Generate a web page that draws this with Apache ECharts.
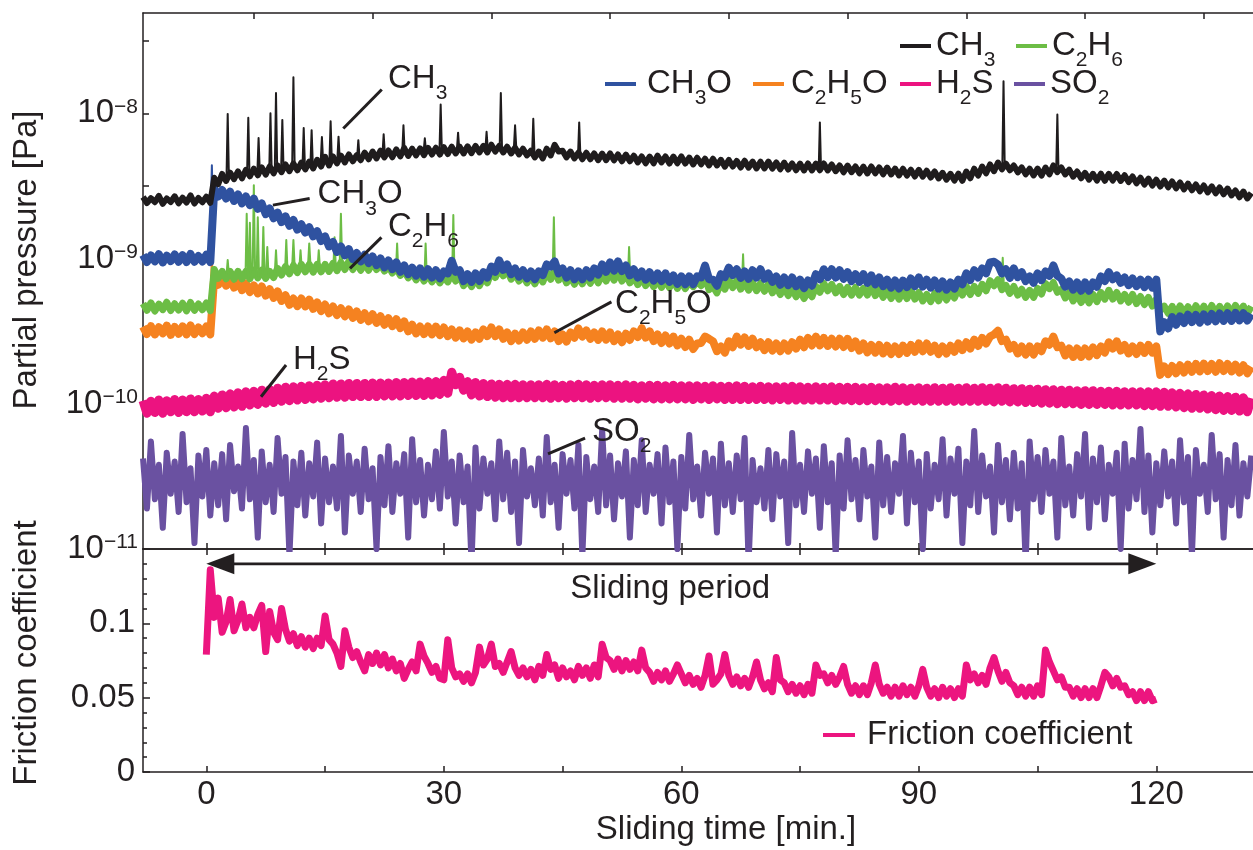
<!DOCTYPE html>
<html>
<head>
<meta charset="utf-8">
<title>Partial pressure and friction coefficient during sliding</title>
<script src="https://cdn.jsdelivr.net/npm/echarts@6/dist/echarts.min.js"></script>
<style>
  html, body { margin: 0; padding: 0; background: #ffffff; }
  #chart { width: 1253px; height: 850px; }
</style>
</head>
<body>
<div id="chart"></div>
<script>
// ---------------------------------------------------------------------------
// Gas traces are sampled every half minute starting at -8 min.
// Partial pressures are stored in units of 1e-12 Pa.
// Short spikes are listed separately (time in min, peak value).
// ---------------------------------------------------------------------------
const GAS_T0 = -8;
const FRICTION_T0 = 0;
const STEP = 0.5;
const PRESSURE_UNIT = 1e-12;

const ch3 = [
  2650, 2410, 2600, 2440, 2700, 2380, 2590, 2450, 2680, 2400, 2620, 2430, 2720, 2390, 2610, 2440, 2660, 2420, 3600, 3250,
  3820, 3420, 3900, 3520, 3980, 3560, 4080, 3680, 4150, 3740, 4240, 3780, 4300, 3860, 4370, 3930, 4440, 3990, 4500, 4050,
  4580, 4110, 4650, 4170, 4780, 4300, 5010, 4370, 5040, 4520, 5110, 4590, 5200, 4670, 5150, 4750, 5360, 4820, 5450, 4890,
  5520, 4970, 5540, 4980, 5630, 5050, 5760, 5080, 5700, 5130, 5730, 5150, 5780, 5200, 5790, 5200, 5840, 5240, 5880, 5290,
  5890, 5290, 5920, 5310, 5960, 5370, 5970, 5370, 6070, 5450, 5960, 5370, 5880, 5290, 5790, 5210, 5700, 5130, 5520, 4970,
  5450, 4890, 5700, 5130, 6070, 5450, 5520, 4970, 5450, 4890, 5360, 4820, 5350, 4820, 5290, 4750, 5280, 4750, 5290, 4740,
  5200, 4670, 5190, 4670, 5110, 4590, 5040, 4520, 5030, 4520, 5100, 4590, 5040, 4510, 5030, 4520, 5040, 4510, 4950, 4440,
  4940, 4450, 4870, 4370, 4860, 4370, 4780, 4290, 4770, 4300, 4700, 4230, 4710, 4220, 4650, 4170, 4640, 4170, 4650, 4160,
  4580, 4110, 4570, 4100, 4510, 4050, 4500, 4040, 4510, 4040, 4500, 4050, 4510, 4040, 4440, 3990, 4370, 3920, 4360, 3930,
  4300, 3860, 4290, 3850, 4300, 3860, 4240, 3800, 4230, 3790, 4160, 3730, 4150, 3720, 4090, 3670, 4080, 3660, 4020, 3610,
  3970, 3560, 3890, 3490, 3830, 3440, 3840, 3430, 3970, 3570, 4150, 3720, 4300, 3860, 4440, 3990, 4580, 4110, 4500, 4050,
  4370, 3920, 4240, 3800, 4150, 3730, 4160, 3720, 4230, 3800, 4370, 3930, 4230, 3790, 4090, 3660, 3970, 3570, 3890, 3490,
  3830, 3440, 3840, 3430, 3830, 3440, 3820, 3420, 3740, 3360, 3670, 3290, 3600, 3230, 3550, 3180, 3490, 3130, 3440, 3090,
  3390, 3040, 3340, 2990, 3280, 2950, 3230, 2900, 3180, 2850, 3140, 2810, 3080, 2770, 3030, 2720, 2940, 2640, 2890, 2590,
  2820
];
const ch3SpikeT = [2.7, 5.3, 6.6, 8.1, 8.8, 9.6, 11.0, 12.3, 13.3, 14.6, 15.7, 16.7, 19.2, 22.4, 24.9, 27.6, 29.6, 31.8, 35.4, 37.2, 39.0, 41.3, 47.1, 77.5, 100.7, 107.5];
const ch3SpikeV = [9900, 9300, 6750, 10000, 13800, 9000, 17700, 7900, 7650, 6850, 8800, 6900, 6530, 7160, 8270, 6720, 11500, 7350, 7450, 13800, 8270, 9150, 8650, 8650, 16600, 9800];

const ch3o = [
  1060, 945, 1050, 955, 1070, 940, 1045, 960, 1065, 950, 1055, 945, 1075, 950, 1040, 955, 1060, 945, 3020, 2670,
  2960, 2590, 2880, 2490, 2760, 2400, 2670, 2330, 2580, 2200, 2390, 2020, 2210, 1890, 2070, 1780, 1950, 1680, 1840, 1580,
  1720, 1510, 1640, 1420, 1540, 1320, 1420, 1210, 1300, 1110, 1210, 1050, 1160, 990, 1090, 955, 1060, 930, 1035, 900,
  1000, 870, 970, 845, 940, 810, 895, 780, 865, 762, 855, 750, 843, 740, 830, 730, 815, 790, 965, 810,
  830, 700, 780, 690, 790, 700, 805, 740, 880, 810, 970, 835, 910, 780, 855, 750, 830, 730, 815, 720,
  815, 770, 910, 880, 955, 790, 855, 740, 830, 720, 815, 720, 830, 740, 855, 775, 910, 810, 940, 825,
  955, 820, 895, 765, 843, 740, 815, 715, 805, 705, 790, 700, 790, 690, 765, 670, 753, 665, 753, 665,
  753, 740, 895, 720, 715, 650, 780, 745, 865, 770, 843, 735, 815, 725, 830, 740, 843, 725, 790, 690,
  753, 660, 740, 655, 740, 645, 715, 625, 705, 650, 780, 720, 843, 745, 843, 740, 830, 725, 805, 700,
  780, 690, 780, 680, 765, 665, 740, 645, 715, 630, 705, 622, 705, 635, 728, 645, 740, 640, 715, 630,
  705, 620, 695, 610, 684, 620, 715, 665, 790, 710, 830, 740, 855, 790, 940, 950, 910, 790, 843, 735,
  855, 745, 805, 700, 753, 680, 790, 710, 815, 760, 895, 760, 728, 640, 695, 610, 684, 600, 684, 600,
  684, 640, 753, 700, 805, 720, 765, 680, 740, 655, 728, 645, 715, 635, 715, 630, 715, 315, 365, 330,
  395, 350, 400, 360, 410, 365, 408, 362, 412, 368, 415, 370, 418, 372, 420, 372, 422, 375, 420, 374,
  415
];
const ch3oSpikeT = [0.7];
const ch3oSpikeV = [4390];

const c2h6 = [
  490, 440, 495, 435, 485, 445, 500, 438, 488, 442, 492, 436, 498, 440, 486, 444, 494, 438, 840, 730,
  815, 725, 815, 720, 815, 725, 815, 725, 830, 735, 830, 730, 815, 740, 855, 770, 880, 785, 895, 800,
  910, 810, 910, 805, 910, 810, 910, 815, 925, 825, 940, 840, 955, 840, 940, 830, 925, 830, 940, 840,
  920, 820, 890, 795, 862, 765, 823, 735, 798, 712, 786, 700, 775, 690, 763, 680, 750, 690, 785, 700,
  763, 650, 716, 640, 727, 650, 739, 680, 810, 740, 848, 760, 837, 720, 786, 700, 763, 680, 750, 670,
  765, 690, 805, 720, 830, 710, 790, 680, 753, 665, 753, 670, 765, 675, 765, 680, 780, 700, 805, 710,
  805, 700, 780, 680, 753, 660, 740, 650, 728, 640, 715, 632, 715, 630, 705, 622, 705, 620, 695, 640,
  695, 650, 740, 610, 645, 580, 684, 615, 715, 630, 705, 615, 684, 605, 684, 600, 673, 595, 664, 580,
  643, 565, 633, 556, 623, 545, 605, 530, 594, 545, 643, 585, 673, 600, 664, 580, 643, 565, 633, 560,
  633, 560, 623, 560, 643, 555, 614, 540, 604, 530, 594, 525, 594, 530, 604, 525, 584, 510, 566, 505,
  575, 512, 584, 518, 584, 535, 623, 560, 643, 565, 643, 575, 664, 600, 704, 650, 715, 610, 653, 575,
  643, 560, 614, 540, 604, 540, 623, 570, 673, 620, 684, 585, 614, 535, 584, 510, 566, 498, 558, 495,
  566, 505, 584, 525, 604, 525, 584, 510, 566, 500, 566, 490, 548, 482, 540, 470, 523, 440, 470, 420,
  468, 415, 472, 418, 466, 412, 474, 420, 470, 416, 475, 420, 468, 415, 472, 418, 476, 422, 470, 417,
  468
];
const c2h6SpikeT = [2.7, 5.1, 5.5, 6.0, 6.5, 7.2, 7.7, 8.8, 10.1, 11.0, 11.9, 13.0, 14.2, 16.2, 17.0, 18.7, 24.1, 27.7, 31.2, 43.9, 53.4, 67.8, 100.6];
const c2h6SpikeV = [975, 2030, 1760, 3200, 1920, 1650, 1200, 1140, 1340, 1340, 1140, 1270, 1140, 1400, 2030, 1070, 1270, 1270, 1990, 1920, 1200, 1070, 1010];

const c2h5o = [
  340, 302, 342, 300, 336, 305, 345, 298, 338, 303, 341, 300, 346, 302, 335, 306, 340, 300, 750, 660,
  740, 650, 727, 630, 695, 605, 673, 588, 653, 575, 642, 555, 614, 535, 594, 510, 558, 480, 530, 470,
  530, 468, 521, 450, 498, 435, 482, 420, 467, 408, 454, 400, 446, 390, 432, 378, 420, 370, 413, 360,
  400, 350, 388, 342, 382, 332, 369, 315, 350, 305, 340, 302, 340, 300, 340, 297, 335, 292, 325, 285,
  320, 282, 315, 276, 310, 280, 325, 292, 335, 292, 325, 280, 310, 270, 304, 272, 310, 276, 315, 280,
  320, 285, 325, 282, 315, 270, 300, 268, 310, 285, 330, 290, 320, 280, 310, 275, 315, 276, 310, 270,
  300, 265, 304, 275, 315, 288, 331, 285, 315, 270, 300, 262, 295, 260, 290, 252, 280, 246, 276, 238,
  260, 262, 290, 280, 269, 230, 248, 225, 269, 245, 290, 255, 286, 250, 280, 245, 265, 234, 265, 232,
  260, 230, 260, 232, 265, 240, 276, 245, 284, 252, 290, 252, 284, 250, 280, 248, 280, 246, 280, 242,
  269, 232, 260, 226, 254, 225, 254, 222, 251, 220, 248, 220, 251, 224, 254, 228, 260, 230, 260, 228,
  251, 220, 248, 222, 251, 228, 260, 234, 265, 240, 276, 250, 284, 260, 290, 300, 318, 270, 276, 240,
  254, 222, 248, 218, 248, 218, 248, 230, 269, 255, 290, 245, 251, 215, 240, 210, 240, 210, 240, 212,
  244, 216, 248, 225, 265, 240, 269, 232, 254, 222, 248, 220, 251, 224, 254, 225, 248, 158, 181, 160,
  182, 162, 184, 164, 186, 166, 188, 167, 189, 168, 188, 166, 190, 168, 188, 167, 186, 164, 184, 162,
  180
];
const c2h5oSpikeT = [0.7];
const c2h5oSpikeV = [1055];

const h2s = [
  105, 86, 104, 87, 106, 86, 105, 88, 107, 87, 106, 88, 108, 88, 107, 89, 109, 88, 113, 93,
  115, 94, 117, 95, 119, 96, 121, 98, 122, 99, 124, 101, 125, 102, 128, 104, 130, 105, 131, 106,
  132, 107, 133, 108, 134, 109, 135, 110, 137, 111, 137, 111, 138, 112, 138, 112, 138, 112, 139, 112,
  139, 113, 139, 113, 140, 113, 140, 114, 141, 114, 141, 114, 142, 115, 142, 116, 145, 118, 165, 135,
  152, 124, 142, 115, 140, 113, 138, 112, 137, 111, 136, 110, 136, 110, 136, 110, 135, 110, 135, 110,
  135, 110, 136, 109, 135, 110, 134, 109, 135, 110, 136, 110, 135, 109, 134, 110, 135, 110, 135, 109,
  134, 109, 135, 109, 134, 108, 133, 109, 134, 108, 134, 108, 133, 108, 134, 108, 133, 108, 133, 107,
  133, 108, 132, 107, 133, 108, 132, 107, 132, 107, 133, 107, 132, 107, 131, 107, 132, 107, 131, 106,
  131, 107, 131, 106, 132, 106, 131, 106, 130, 106, 131, 106, 130, 106, 131, 105, 130, 106, 130, 105,
  130, 105, 129, 105, 130, 105, 129, 105, 129, 104, 130, 105, 129, 104, 128, 105, 129, 104, 128, 104,
  129, 104, 128, 104, 129, 104, 128, 104, 129, 104, 128, 104, 129, 104, 128, 103, 129, 104, 128, 103,
  127, 103, 127, 102, 126, 102, 126, 101, 125, 101, 125, 100, 124, 100, 124, 100, 123, 99, 123, 99,
  123, 99, 122, 99, 122, 98, 122, 98, 121, 98, 121, 98, 121, 97, 121, 97, 121, 96, 120, 96,
  119, 95, 118, 94, 117, 93, 116, 93, 115, 92, 114, 91, 113, 90, 112, 90, 111, 89, 110, 88,
  109
];

const so2 = [
  42, 19, 55, 22, 38, 14, 46, 24, 40, 18, 62, 21, 36, 11, 44, 23, 48, 17, 39, 20,
  45, 16, 52, 25, 37, 19, 68, 22, 41, 12, 47, 21, 38, 18, 58, 24, 43, 9, 40, 20,
  46, 17, 39, 23, 54, 15, 42, 21, 37, 19, 60, 13, 44, 24, 40, 18, 49, 22, 36, 10,
  43, 20, 51, 18, 39, 24, 45, 12, 57, 21, 41, 17, 38, 22, 47, 19, 64, 23, 40, 15,
  44, 21, 37, 8, 50, 19, 42, 24, 39, 16, 55, 22, 46, 18, 40, 11, 48, 23, 36, 20,
  42, 17, 59, 21, 38, 14, 45, 24, 41, 19, 52, 9, 43, 22, 37, 18, 66, 20, 44, 16,
  39, 23, 47, 12, 41, 20, 56, 18, 38, 24, 45, 15, 50, 21, 40, 10, 43, 19, 61, 22,
  37, 17, 46, 24, 42, 13, 53, 20, 39, 18, 44, 22, 58, 8, 41, 21, 36, 19, 48, 16,
  45, 23, 40, 11, 63, 20, 38, 18, 47, 24, 42, 14, 51, 21, 39, 9, 44, 19, 56, 22,
  41, 16, 48, 23, 37, 12, 54, 20, 43, 18, 39, 24, 60, 15, 46, 21, 40, 10, 45, 19,
  38, 22, 57, 17, 42, 24, 49, 11, 40, 20, 65, 18, 44, 23, 37, 13, 52, 21, 41, 16,
  46, 19, 39, 8, 55, 22, 43, 18, 48, 24, 40, 12, 58, 20, 37, 17, 45, 23, 62, 14,
  42, 21, 50, 16, 38, 24, 46, 10, 53, 19, 41, 22, 67, 18, 44, 13, 39, 20, 47, 23,
  40, 15, 56, 21, 43, 9, 48, 24, 38, 18, 61, 22, 45, 12, 41, 20, 52, 17, 39, 23,
  44
];

// Friction coefficient, sampled every half minute from 0 to 120 min.
const friction = [
  0.079, 0.136, 0.104, 0.117, 0.094, 0.101, 0.116, 0.095, 0.102, 0.113, 0.097, 0.104, 0.097, 0.106, 0.112, 0.081, 0.108, 0.094, 0.089, 0.110,
  0.096, 0.088, 0.093, 0.085, 0.091, 0.084, 0.090, 0.083, 0.090, 0.085, 0.105, 0.089, 0.086, 0.080, 0.071, 0.095, 0.084, 0.077, 0.081, 0.074,
  0.068, 0.079, 0.073, 0.080, 0.072, 0.079, 0.070, 0.076, 0.068, 0.073, 0.063, 0.069, 0.074, 0.068, 0.086, 0.078, 0.073, 0.067, 0.071, 0.063,
  0.062, 0.089, 0.070, 0.064, 0.066, 0.061, 0.066, 0.060, 0.067, 0.084, 0.072, 0.076, 0.086, 0.071, 0.073, 0.067, 0.074, 0.081, 0.070, 0.065,
  0.070, 0.064, 0.069, 0.062, 0.071, 0.065, 0.079, 0.069, 0.072, 0.063, 0.070, 0.064, 0.068, 0.062, 0.071, 0.065, 0.070, 0.063, 0.072, 0.064,
  0.086, 0.077, 0.075, 0.069, 0.076, 0.068, 0.075, 0.069, 0.074, 0.068, 0.082, 0.070, 0.067, 0.061, 0.067, 0.062, 0.068, 0.061, 0.066, 0.072,
  0.066, 0.060, 0.065, 0.059, 0.063, 0.057, 0.065, 0.078, 0.059, 0.062, 0.066, 0.079, 0.065, 0.059, 0.064, 0.058, 0.063, 0.057, 0.064, 0.074,
  0.062, 0.056, 0.060, 0.054, 0.077, 0.062, 0.060, 0.054, 0.059, 0.053, 0.058, 0.052, 0.059, 0.053, 0.072, 0.065, 0.066, 0.060, 0.065, 0.059,
  0.064, 0.071, 0.059, 0.053, 0.058, 0.052, 0.058, 0.052, 0.060, 0.072, 0.059, 0.053, 0.057, 0.051, 0.057, 0.051, 0.058, 0.052, 0.057, 0.051,
  0.058, 0.069, 0.057, 0.051, 0.056, 0.050, 0.057, 0.051, 0.056, 0.050, 0.056, 0.051, 0.072, 0.062, 0.066, 0.060, 0.065, 0.059, 0.070, 0.077,
  0.068, 0.061, 0.067, 0.060, 0.058, 0.052, 0.057, 0.051, 0.057, 0.051, 0.058, 0.052, 0.082, 0.074, 0.068, 0.062, 0.064, 0.057, 0.057, 0.051,
  0.056, 0.050, 0.056, 0.050, 0.056, 0.050, 0.058, 0.067, 0.064, 0.058, 0.063, 0.057, 0.058, 0.052, 0.054, 0.048, 0.054, 0.048, 0.054, 0.048,
  0.049
];

// Axis ticks and labels
const X_MIN = -8, X_MAX = 132.34;
const minuteTicks = [0, 15, 30, 45, 60, 75, 90, 105, 120];
const minuteTopTicks = [6, 21, 36, 51, 66, 81, 96, 111, 126];
const minuteLabels = [0, 30, 60, 90, 120];
const pressureLabels = [1e-11, 1e-10, 1e-9, 1e-8];
const pressureTicks = [1e-11, 3.162e-11, 1e-10, 3.162e-10, 1e-9, 3.162e-9, 1e-8, 3.162e-8];
const frictionLabels = [0, 0.05, 0.1];

// Curve labels with leader lines (minutes, 1e-12 Pa)
const curveLabels = [
  { text: 'CH{s|3}',       from: [17.3, 7850],  to: [22.16, 14580], at: [22.95, 17180] },
  { text: 'CH{s|3}O',      from: [8.41, 2330],  to: [13.05, 2590],  at: [14.05, 2770] },
  { text: 'C{s|2}H{s|6}',  from: [18.15, 855],  to: [22.12, 1397],  at: [22.95, 1658] },
  { text: 'C{s|2}H{s|5}O', from: [43.96, 308],  to: [51.17, 503],   at: [51.63, 486] },
  { text: 'H{s|2}S',       from: [6.91, 111.7], to: [10.07, 184.7], at: [10.95, 200] },
  { text: 'SO{s|2}',       from: [43.16, 45.1], to: [47.84, 58.1],  at: [48.73, 63.9] }
];
const slidingPeriod = [0, 120];
const slidingArrowLevel = 0.14;
const slidingLabelAt = [58.6, 0.123];

// ---------------------------------------------------------------------------
const FONT = "'Liberation Sans', Arial, Helvetica, sans-serif";
const INK = '#231f20';
const COLORS = {
  CH3: '#1f1c1d', C2H6: '#6cbd45', CH3O: '#2f52a0', C2H5O: '#f58220',
  H2S: '#ec1380', SO2: '#6a51a1', Friction: '#ec157f'
};
const formulaText = {
  'CH3': 'CH{s|3}', 'C2H6': 'C{s|2}H{s|6}', 'CH3O': 'CH{s|3}O',
  'C2H5O': 'C{s|2}H{s|5}O', 'H2S': 'H{s|2}S', 'SO2': 'SO{s|2}',
  'Friction coefficient': 'Friction coefficient'
};
// Chemical-formula text: a tall line box keeps the capitals centred while the
// subscript token sits at the bottom of the box.
const FORMULA_LINE = 50;
const SUB = { fontSize: 21, lineHeight: 24, verticalAlign: 'bottom', fontFamily: FONT, color: INK, fill: INK };

// Half-minute readings -> [minutes, Pa]
function traceData(values) {
  return values.map((v, i) => [GAS_T0 + i * STEP, v * PRESSURE_UNIT]);
}
// Each spike: a narrow tent rising from the trace level to its peak
function spikeData(values, spikeT, spikeV) {
  const pts = [];
  const halfWidth = 0.15;
  spikeT.forEach((t, k) => {
    const pos = (t - GAS_T0) / STEP;
    const base = (values[Math.floor(pos)] + values[Math.ceil(pos)]) / 2 * PRESSURE_UNIT;
    pts.push([t - halfWidth, base], [t, spikeV[k] * PRESSURE_UNIT], [t + halfWidth, base], [t, '-']);
  });
  return pts;
}
const frictionData = friction.map((v, i) => [FRICTION_T0 + i * STEP, v]);

function lineSeries(name, data, width, axes) {
  return {
    name, type: 'line', xAxisIndex: axes ? axes[0] : 0, yAxisIndex: axes ? axes[1] : 0, data,
    symbol: 'none', showSymbol: false, sampling: null, silent: true, connectNulls: false,
    color: COLORS[name] || COLORS.Friction,
    lineStyle: { color: COLORS[name] || COLORS.Friction, width, join: 'round' },
    itemStyle: { color: COLORS[name] || COLORS.Friction },
    emphasis: { disabled: true }
  };
}

const axisLineStyle = { color: INK, width: 1.5 };
function xAxisFor(gridIndex, position, ticks, labels) {
  return {
    type: 'value', gridIndex, position, min: X_MIN, max: X_MAX,
    axisLine: { show: true, onZero: false, lineStyle: axisLineStyle },
    splitLine: { show: false },
    axisTick: { show: true, inside: true, length: 6, customValues: ticks, lineStyle: axisLineStyle },
    axisLabel: labels
      ? { show: true, customValues: labels, fontSize: 33, color: INK, fontFamily: FONT, margin: 6 }
      : { show: false }
  };
}

function legendFor(name, left, top, gap, iconW, lineH) {
  return {
    data: [name], left, top, padding: 0, itemGap: 0,
    itemWidth: iconW || 31, itemHeight: 4, icon: 'rect', selectedMode: false,
    formatter: n => (gap ? '{g| }' : '') + formulaText[n],
    textStyle: {
      fontSize: 33, lineHeight: lineH || FORMULA_LINE, color: INK, fontFamily: FONT,
      rich: { s: SUB, g: { width: gap || 0, fontSize: 10 } }
    }
  };
}

// Wide strokes render the dense measurement noise as a band
const series = [
  lineSeries('SO2', traceData(so2), 6),
  lineSeries('H2S', traceData(h2s), 9),
  lineSeries('C2H5O', traceData(c2h5o), 8),
  lineSeries('C2H5O', spikeData(c2h5o, c2h5oSpikeT, c2h5oSpikeV), 2),
  lineSeries('C2H6', traceData(c2h6), 7),
  lineSeries('C2H6', spikeData(c2h6, c2h6SpikeT, c2h6SpikeV), 2),
  lineSeries('CH3O', traceData(ch3o), 8),
  lineSeries('CH3O', spikeData(ch3o, ch3oSpikeT, ch3oSpikeV), 2),
  lineSeries('CH3', traceData(ch3), 6),
  lineSeries('CH3', spikeData(ch3, ch3SpikeT, ch3SpikeV), 2),
  lineSeries('Friction coefficient', frictionData, 7, [3, 1])
];
const FRICTION_SERIES = series.length - 1;

const chart = echarts.init(document.getElementById('chart'), null, { renderer: 'canvas' });

const option = {
  animation: false,
  backgroundColor: '#ffffff',
  textStyle: { fontFamily: FONT, color: INK },
  grid: [
    { left: 143, top: 13, width: 1111, height: 536, containLabel: false, outerBoundsMode: 'none' },
    { left: 143, top: 549, width: 1111, height: 223, containLabel: false, outerBoundsMode: 'none' }
  ],
  xAxis: [
    xAxisFor(0, 'bottom', minuteTicks, null),
    xAxisFor(0, 'top', minuteTopTicks, null),
    xAxisFor(1, 'top', minuteTicks, null),
    xAxisFor(1, 'bottom', minuteTicks, minuteLabels)
  ],
  yAxis: [
    {
      type: 'log', logBase: 10, gridIndex: 0, min: 1e-11, max: 4.9e-8,
      axisLine: { show: true, onZero: false, lineStyle: axisLineStyle },
      splitLine: { show: false },
      minorTick: { show: false },
      axisTick: { show: true, inside: true, length: 6, customValues: pressureTicks, lineStyle: axisLineStyle },
      axisLabel: {
        customValues: pressureLabels, margin: 5, color: INK,
        formatter: v => '{b|10}{p|\u2212' + Math.round(-Math.log10(v)) + '}',
        rich: {
          b: { fontSize: 33, lineHeight: 34, fontFamily: FONT, color: INK },
          p: { fontSize: 21, lineHeight: 9, verticalAlign: 'top', fontFamily: FONT, color: INK }
        }
      }
    },
    {
      type: 'value', gridIndex: 1, min: 0, max: 0.15, interval: 0.05,
      axisLine: { show: true, onZero: false, lineStyle: axisLineStyle },
      splitLine: { show: false },
      axisTick: { show: true, inside: true, length: 7, lineStyle: axisLineStyle },
      minorTick: { show: true, splitNumber: 5, length: 4, lineStyle: axisLineStyle },
      axisLabel: {
        customValues: frictionLabels, margin: 8, fontSize: 33, color: INK, fontFamily: FONT,
        formatter: v => String(+v.toFixed(2))
      }
    }
  ],
  legend: [
    legendFor('CH3', 900, 21, 0),
    legendFor('C2H6', 1016, 21, 0),
    legendFor('CH3O', 605, 59, 6),
    legendFor('C2H5O', 753, 59, 2),
    legendFor('H2S', 900, 59, 0),
    legendFor('SO2', 1014, 59, 0),
    legendFor('Friction coefficient', 823, 718, 7, 32, 34)
  ],
  series
};
chart.setOption(option);

// Annotations placed through the chart's own coordinate conversion
function drawAnnotations() {
  const gasPx = p => chart.convertToPixel({ seriesIndex: 0 }, [p[0], p[1] * PRESSURE_UNIT]);
  const frPx = p => chart.convertToPixel({ seriesIndex: FRICTION_SERIES }, p);
  const els = [];
  const textStyle = (text, align, lineH) => ({
    text, fill: INK, fontSize: 33, fontFamily: FONT, lineHeight: lineH || 34,
    align: align || 'left', verticalAlign: 'middle', rich: { s: SUB }
  });

  curveLabels.forEach(c => {
    const a = gasPx(c.from), b = gasPx(c.to), t = gasPx(c.at);
    els.push({ type: 'line', z: 50, silent: true,
      shape: { x1: a[0], y1: a[1], x2: b[0], y2: b[1] },
      style: { stroke: INK, lineWidth: 3 } });
    els.push({ type: 'text', z: 50, silent: true, x: t[0], y: t[1], style: textStyle(c.text, 'left', FORMULA_LINE) });
  });

  // Double-headed arrow marking the sliding period
  const L = frPx([slidingPeriod[0], slidingArrowLevel]);
  const R = frPx([slidingPeriod[1], slidingArrowLevel]);
  const head = 28, half = 10.5;
  els.push({ type: 'line', z: 50, silent: true,
    shape: { x1: L[0] + head - 2, y1: L[1], x2: R[0] - head + 2, y2: R[1] },
    style: { stroke: INK, lineWidth: 2.6 } });
  els.push({ type: 'polygon', z: 50, silent: true,
    shape: { points: [[L[0], L[1]], [L[0] + head, L[1] - half], [L[0] + head, L[1] + half]] },
    style: { fill: INK } });
  els.push({ type: 'polygon', z: 50, silent: true,
    shape: { points: [[R[0], R[1]], [R[0] - head, R[1] - half], [R[0] - head, R[1] + half]] },
    style: { fill: INK } });
  const sp = frPx(slidingLabelAt);
  els.push({ type: 'text', z: 50, silent: true, x: sp[0], y: sp[1], style: textStyle('Sliding period', 'center') });

  // Axis titles
  els.push({ type: 'text', z: 50, silent: true, x: 27, y: 260, rotation: Math.PI / 2,
    style: textStyle('Partial pressure [Pa]', 'center') });
  els.push({ type: 'text', z: 50, silent: true, x: 27, y: 653, rotation: Math.PI / 2,
    style: textStyle('Friction coefficient', 'center') });
  els.push({ type: 'text', z: 50, silent: true, x: 726, y: 830,
    style: textStyle('Sliding time [min.]', 'center') });

  chart.setOption({ graphic: { elements: els } });
}
drawAnnotations();
</script>
</body>
</html>
